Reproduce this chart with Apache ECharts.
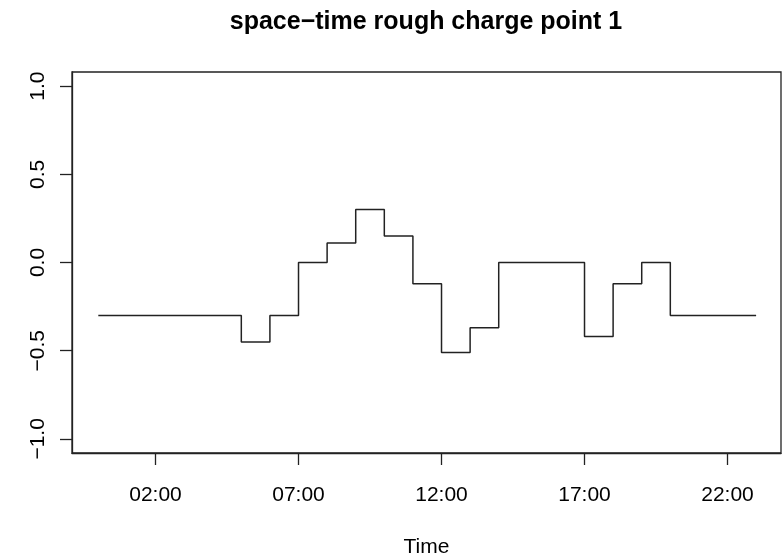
<!DOCTYPE html>
<html>
<head>
<meta charset="utf-8">
<script src="https://cdn.jsdelivr.net/npm/echarts@6/dist/echarts.min.js"></script>
<style>
  html, body { margin: 0; padding: 0; background: #fff; }
  #main { width: 782px; height: 559px; }
</style>
</head>
<body>
<div id="main"></div>
<script>
// hour of day for each step (00:00 .. 23:00)
var hours = [0, 1, 2, 3, 4, 5, 6, 7, 8, 9, 10, 11, 12, 13, 14, 15, 16, 17, 18, 19, 20, 21, 22, 23];
// rough charge value, held until the next hour
var charge = [-0.3, -0.3, -0.3, -0.3, -0.3, -0.45, -0.3, 0, 0.11, 0.3, 0.15, -0.12,
              -0.51, -0.37, 0, 0, 0, -0.42, -0.12, 0, -0.3, -0.3, -0.3, -0.3];
var xTicks = [2, 7, 12, 17, 22];
var yTicks = [-1, -0.5, 0, 0.5, 1];

var font = '"Liberation Sans", Arial, Helvetica, sans-serif';

var myChart = echarts.init(document.getElementById('main'));

var option = {
  animation: false,
  backgroundColor: '#fff',
  title: {
    text: 'space\u2212time rough charge point 1',
    left: 421,
    textAlign: 'center',
    top: 5,
    textStyle: { fontFamily: font, fontSize: 25, fontWeight: 'bold', color: '#000' }
  },
  grid: {
    left: 72, right: 1, top: 72, bottom: 106,
    outerBoundsMode: 'none',
    containLabel: false,
    show: true, borderColor: '#222', borderWidth: 1.3
  },
  xAxis: {
    type: 'value',
    min: -0.92,
    max: 23.87,
    name: 'Time',
    nameLocation: 'middle',
    nameGap: 84,
    nameTextStyle: { fontFamily: font, fontSize: 21, color: '#000' },
    axisLine: { show: true, onZero: false, lineStyle: { color: '#222', width: 1.3 } },
    axisTick: { show: true, inside: false, length: 12, customValues: xTicks, lineStyle: { color: '#222', width: 1.3 } },
    axisLabel: {
      customValues: xTicks,
      margin: 32,
      fontFamily: font, fontSize: 21, color: '#000',
      formatter: function (v) { return (v < 10 ? '0' : '') + v + ':00'; }
    },
    splitLine: { show: false }
  },
  yAxis: {
    type: 'value',
    min: -1.08,
    max: 1.08,
    axisLine: { show: true, onZero: false, lineStyle: { color: '#222', width: 1.3 } },
    axisTick: { show: true, inside: false, length: 12, customValues: yTicks, lineStyle: { color: '#222', width: 1.3 } },
    axisLabel: {
      customValues: yTicks,
      rotate: 90,
      margin: 23,
      fontFamily: font, fontSize: 21, color: '#000',
      formatter: function (v) { return v.toFixed(1).replace('-', '\u2212'); }
    },
    splitLine: { show: false }
  },
  series: [{
    type: 'line',
    step: 'end',
    showSymbol: false,
    data: hours.map(function (h, i) { return [h, charge[i]]; }),
    lineStyle: { color: '#222', width: 1.5 }
  }]
};

myChart.setOption(option);
</script>
</body>
</html>
